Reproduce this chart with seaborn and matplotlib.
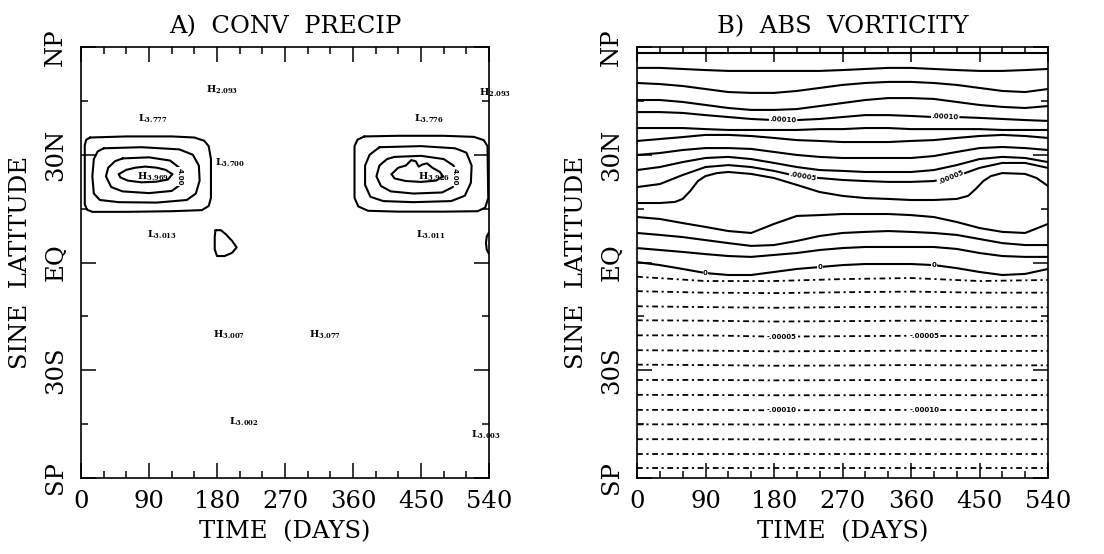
import numpy as np
import pandas as pd
import matplotlib
matplotlib.use("Agg")
import matplotlib.pyplot as plt
import seaborn as sns

# ---------------- axis data ----------------
DAY_MAJOR = [0, 90, 180, 270, 360, 450, 540]
DAY_MINOR = [30, 60, 120, 150, 210, 240, 300, 330, 390, 420, 480, 510]
LAT_MAJOR = [-1.0, -0.5, 0.0, 0.5, 1.0]
LAT_LABELS = ["SP", "30S", "EQ", "30N", "NP"]
LAT_MINOR = [-0.75, -0.25, 0.25, 0.75]

# ---------------- Panel A: convective precipitation (closed contours) ----------------
A_W1_DAY = [12, 60, 120, 150, 163, 169, 172, 172, 169, 160, 120, 60, 15, 8, 5, 5, 7, 12]
A_W1_MU = [0.580, 0.585, 0.585, 0.580, 0.565, 0.540, 0.480, 0.300, 0.262, 0.243, 0.238, 0.235, 0.235, 0.245, 0.270, 0.545, 0.570, 0.580]
A_W2_DAY = [30, 80, 130, 148, 156, 157, 152, 140, 100, 50, 25, 17, 15, 17, 22, 30]
A_W2_MU = [0.530, 0.535, 0.525, 0.500, 0.450, 0.380, 0.320, 0.290, 0.278, 0.280, 0.290, 0.320, 0.400, 0.480, 0.515, 0.530]
A_W3_DAY = [55, 90, 118, 130, 134, 131, 120, 90, 55, 40, 33, 36, 45, 55]
A_W3_MU = [0.483, 0.488, 0.473, 0.440, 0.400, 0.360, 0.332, 0.322, 0.330, 0.350, 0.400, 0.440, 0.470, 0.483]
A_W4_DAY = [50, 60, 72, 85, 100, 112, 121, 115, 100, 80, 62, 52, 50]
A_W4_MU = [0.410, 0.430, 0.440, 0.445, 0.440, 0.430, 0.410, 0.385, 0.375, 0.372, 0.380, 0.395, 0.410]
A_E1_DAY = [375, 420, 480, 520, 533, 538, 539, 535, 525, 480, 420, 380, 367, 362, 362, 366, 375]
A_E1_MU = [0.585, 0.588, 0.588, 0.583, 0.568, 0.540, 0.300, 0.255, 0.238, 0.236, 0.236, 0.240, 0.260, 0.300, 0.540, 0.570, 0.585]
A_E2_DAY = [395, 450, 495, 510, 517, 516, 508, 490, 440, 400, 383, 376, 376, 382, 395]
A_E2_MU = [0.535, 0.540, 0.530, 0.510, 0.450, 0.370, 0.310, 0.285, 0.280, 0.285, 0.305, 0.360, 0.450, 0.500, 0.535]
A_E3_DAY = [415, 450, 480, 493, 497, 492, 478, 440, 410, 397, 391, 395, 405, 415]
A_E3_MU = [0.490, 0.495, 0.480, 0.450, 0.400, 0.350, 0.325, 0.320, 0.330, 0.355, 0.400, 0.450, 0.480, 0.490]
A_E4_DAY = [411, 420, 430, 437, 443, 447, 452, 458, 465, 475, 479, 470, 450, 430, 415, 411]
A_E4_MU = [0.410, 0.440, 0.450, 0.475, 0.470, 0.445, 0.455, 0.460, 0.440, 0.420, 0.400, 0.380, 0.374, 0.378, 0.390, 0.410]
A_T_DAY = [178, 185, 192, 200, 206, 200, 190, 180, 177, 177, 178]
A_T_MU = [0.150, 0.150, 0.130, 0.100, 0.070, 0.045, 0.030, 0.030, 0.060, 0.120, 0.150]
A_R_DAY = [540, 537, 536, 537, 540]
A_R_MU = [0.140, 0.120, 0.090, 0.060, 0.040]

A_MARK = ["H", "L", "L", "H", "L", "H", "L", "H", "L", "H", "L", "L", "H"]
A_MARK_VAL = ["2.093", "3.777", "3.700", "3.969", "3.013", "3.007", "3.002",
              "2.093", "3.776", "3.926", "3.011", "3.003", "3.077"]
A_MARK_DAY = [166, 75, 178, 74, 87, 175, 196, 527, 441, 446, 444, 516, 302]
A_MARK_MU = [0.800, 0.668, 0.462, 0.398, 0.128, -0.336, -0.740, 0.787, 0.668, 0.398, 0.128, -0.800, -0.336]
A_CLAB_DAY = [130, 495]
A_CLAB_MU = [0.400, 0.400]
A_CLAB_TXT = ["4.00", "4.00"]

# ---------------- Panel B: absolute vorticity contour lines ----------------
DAYS30 = [0, 30, 60, 90, 120, 150, 180, 210, 240, 270, 300, 330, 360, 390, 420, 450, 480, 510, 540]
B_P14 = [0.972] * 19
B_P13 = [0.903, 0.903, 0.898, 0.893, 0.889, 0.889, 0.889, 0.889, 0.889, 0.893, 0.898, 0.903, 0.903, 0.898, 0.893, 0.889, 0.889, 0.893, 0.898]
B_P12 = [0.833, 0.828, 0.819, 0.805, 0.791, 0.787, 0.787, 0.796, 0.810, 0.824, 0.833, 0.838, 0.838, 0.833, 0.824, 0.810, 0.796, 0.791, 0.805]
B_P11 = [0.754, 0.754, 0.745, 0.731, 0.717, 0.708, 0.708, 0.712, 0.726, 0.740, 0.754, 0.763, 0.763, 0.759, 0.745, 0.731, 0.722, 0.717, 0.726]
B_P10 = [0.698, 0.698, 0.694, 0.684, 0.675, 0.666, 0.661, 0.661, 0.666, 0.675, 0.684, 0.684, 0.680, 0.675, 0.675, 0.671, 0.666, 0.661, 0.657]
B_P09 = [0.624, 0.624, 0.624, 0.619, 0.615, 0.615, 0.615, 0.615, 0.619, 0.619, 0.624, 0.624, 0.619, 0.619, 0.619, 0.619, 0.615, 0.615, 0.615]
B_P08 = [0.564, 0.573, 0.582, 0.592, 0.592, 0.587, 0.578, 0.568, 0.564, 0.559, 0.559, 0.559, 0.564, 0.568, 0.578, 0.587, 0.592, 0.587, 0.578]
B_P07 = [0.499, 0.508, 0.522, 0.531, 0.531, 0.527, 0.513, 0.499, 0.490, 0.485, 0.485, 0.485, 0.485, 0.494, 0.513, 0.531, 0.536, 0.531, 0.522]
B_P06 = [0.429, 0.443, 0.466, 0.485, 0.490, 0.480, 0.462, 0.443, 0.429, 0.425, 0.420, 0.420, 0.420, 0.429, 0.452, 0.480, 0.490, 0.485, 0.466]
B_P05 = [0.350, 0.364, 0.406, 0.443, 0.452, 0.443, 0.425, 0.401, 0.392, 0.383, 0.378, 0.374, 0.374, 0.378, 0.401, 0.439, 0.462, 0.462, 0.439]
B_P04_DAY = [0, 30, 50, 60, 70, 80, 90, 105, 120, 150, 180, 210, 240, 270, 300, 330, 360, 390, 420, 435, 445, 455, 465, 480, 510, 525, 540]
B_P04 = [0.276, 0.276, 0.281, 0.295, 0.332, 0.378, 0.401, 0.415, 0.420, 0.411, 0.392, 0.360, 0.327, 0.309, 0.299, 0.295, 0.290, 0.290, 0.295, 0.309, 0.341, 0.378, 0.401, 0.415, 0.411, 0.392, 0.355]
B_P03 = [0.211, 0.202, 0.183, 0.165, 0.146, 0.137, 0.179, 0.216, 0.220, 0.225, 0.225, 0.225, 0.220, 0.211, 0.188, 0.160, 0.142, 0.137, 0.179]
B_P02 = [0.137, 0.128, 0.118, 0.104, 0.090, 0.077, 0.081, 0.100, 0.123, 0.137, 0.142, 0.146, 0.142, 0.137, 0.128, 0.109, 0.090, 0.081, 0.081]
B_P01 = [0.067, 0.058, 0.049, 0.039, 0.030, 0.026, 0.035, 0.044, 0.058, 0.067, 0.072, 0.072, 0.072, 0.072, 0.063, 0.044, 0.030, 0.026, 0.026]
B_Z00 = [0.002, -0.012, -0.030, -0.049, -0.058, -0.058, -0.044, -0.030, -0.021, -0.012, -0.007, -0.007, -0.007, -0.012, -0.026, -0.044, -0.058, -0.053, -0.030]

DAYS90 = [0, 90, 180, 270, 360, 450, 540]
B_N01 = [-0.066, -0.086, -0.086, -0.077, -0.072, -0.086, -0.081]
B_N02 = [-0.133, -0.140, -0.142, -0.138, -0.135, -0.140, -0.140]
B_N03 = [-0.203, -0.207, -0.210, -0.207, -0.205, -0.208, -0.208]
B_N04 = [-0.268, -0.270, -0.274, -0.272, -0.270, -0.272, -0.272]
B_N05 = [-0.338, -0.338, -0.344, -0.342, -0.340, -0.342, -0.340]
B_N06 = [-0.407, -0.409, -0.412, -0.411, -0.409, -0.411, -0.410]
B_N07 = [-0.474, -0.476, -0.479, -0.478, -0.476, -0.478, -0.477]
B_N08 = [-0.545, -0.545, -0.547, -0.546, -0.545, -0.546, -0.546]
B_N09 = [-0.614, -0.615, -0.616, -0.616, -0.615, -0.616, -0.615]
B_N10 = [-0.684, -0.684, -0.686, -0.685, -0.684, -0.685, -0.684]
B_N11 = [-0.751, -0.751, -0.752, -0.752, -0.751, -0.752, -0.751]
B_N12 = [-0.820, -0.820, -0.821, -0.821, -0.820, -0.821, -0.820]
B_N13 = [-0.890, -0.890, -0.890, -0.890, -0.890, -0.890, -0.890]
B_N14 = [-0.955, -0.955, -0.955, -0.955, -0.955, -0.955, -0.955]

B_LAB_TXT = [".00010", ".00010", ".00005", ".00005", "0", "0", "0",
             "-.00005", "-.00005", "-.00010", "-.00010"]
B_LAB_DAY = [192, 405, 218, 412, 90, 240, 390, 190, 378, 190, 378]
B_LAB_ROT = [-3, -3, -10, 22, 0, 0, 0, 0, 0, 0, 0]

# ---------------- style ----------------
sns.set_theme(style="ticks")
plt.rcParams["font.family"] = ["DejaVu Serif"]
plt.rcParams["mathtext.fontset"] = "dejavuserif"
FS = 17.5

fig = plt.figure(figsize=(11.04, 5.54), dpi=100)
axA = fig.add_axes([81 / 1104, 76 / 554, 408 / 1104, 431 / 554])
axB = fig.add_axes([637 / 1104, 76 / 554, 411 / 1104, 431 / 554])


def style_axes(ax, title):
    ax.set_xlim(0, 540)
    ax.set_ylim(-1, 1)
    ax.set_xticks(DAY_MAJOR)
    ax.set_xticks(DAY_MINOR, minor=True)
    ax.set_xticklabels([str(d) for d in DAY_MAJOR], fontsize=FS)
    ax.set_yticks(LAT_MAJOR)
    ax.set_yticks(LAT_MINOR, minor=True)
    ax.set_yticklabels(LAT_LABELS, rotation=90, va="center", fontsize=FS)
    ax.tick_params(which="both", direction="in", top=True, right=True,
                   width=1.1, color="black", labelcolor="black")
    ax.tick_params(which="major", length=10.5)
    ax.tick_params(axis="x", which="major", pad=9)
    ax.tick_params(axis="y", which="major", pad=10)
    ax.tick_params(which="minor", length=5)
    for s in ax.spines.values():
        s.set_linewidth(1.2)
        s.set_color("black")
    ax.set_xlabel("TIME  (DAYS)", fontsize=FS, labelpad=5, color="black")
    ax.set_ylabel("SINE  LATITUDE", fontsize=FS, labelpad=9, color="black")
    ax.set_title(title, fontsize=FS, pad=10, color="black")
    ax.set_facecolor("white")


def frame(lines):
    rows = []
    for name, days, mus in lines:
        for d, m in zip(days, mus):
            rows.append((name, d, m))
    return pd.DataFrame(rows, columns=["line", "day", "mu"])


# ---------------- Panel A ----------------
ringsA = [
    ("w1", A_W1_DAY, A_W1_MU), ("w2", A_W2_DAY, A_W2_MU), ("w3", A_W3_DAY, A_W3_MU),
    ("w4", A_W4_DAY, A_W4_MU), ("e1", A_E1_DAY, A_E1_MU), ("e2", A_E2_DAY, A_E2_MU),
    ("e3", A_E3_DAY, A_E3_MU), ("e4", A_E4_DAY, A_E4_MU), ("t", A_T_DAY, A_T_MU),
    ("r", A_R_DAY, A_R_MU),
]
sns.lineplot(data=frame(ringsA), x="day", y="mu", units="line", estimator=None,
             sort=False, color="black", linewidth=1.5, ax=axA, legend=False)
for m, v, d, u in zip(A_MARK, A_MARK_VAL, A_MARK_DAY, A_MARK_MU):
    axA.text(d, u, r"$\mathbf{%s}_{\mathbf{%s}}$" % (m, v), fontsize=7,
             ha="left", va="center", color="black", clip_on=False, zorder=6)
for d, u, s in zip(A_CLAB_DAY, A_CLAB_MU, A_CLAB_TXT):
    axA.text(d, u, s, fontsize=5, fontweight="bold", family="DejaVu Sans",
             rotation=-90, ha="center", va="center", color="black", zorder=6,
             bbox=dict(fc="white", ec="none", pad=0.5))
style_axes(axA, "A)  CONV  PRECIP")

# ---------------- Panel B ----------------
pos_lines = [("p14", DAYS30, B_P14), ("p13", DAYS30, B_P13), ("p12", DAYS30, B_P12),
             ("p11", DAYS30, B_P11), ("p10", DAYS30, B_P10), ("p09", DAYS30, B_P09),
             ("p08", DAYS30, B_P08), ("p07", DAYS30, B_P07), ("p06", DAYS30, B_P06),
             ("p05", DAYS30, B_P05), ("p04", B_P04_DAY, B_P04), ("p03", DAYS30, B_P03),
             ("p02", DAYS30, B_P02), ("p01", DAYS30, B_P01), ("z00", DAYS30, B_Z00)]
neg_lines = [("n01", DAYS90, B_N01), ("n02", DAYS90, B_N02), ("n03", DAYS90, B_N03),
             ("n04", DAYS90, B_N04), ("n05", DAYS90, B_N05), ("n06", DAYS90, B_N06),
             ("n07", DAYS90, B_N07), ("n08", DAYS90, B_N08), ("n09", DAYS90, B_N09),
             ("n10", DAYS90, B_N10), ("n11", DAYS90, B_N11), ("n12", DAYS90, B_N12),
             ("n13", DAYS90, B_N13), ("n14", DAYS90, B_N14)]
sns.lineplot(data=frame(pos_lines), x="day", y="mu", units="line", estimator=None,
             sort=False, color="black", linewidth=1.5, ax=axB, legend=False)
n_before = len(axB.lines)
sns.lineplot(data=frame(neg_lines), x="day", y="mu", units="line", estimator=None,
             sort=False, color="black", linewidth=1.3, ax=axB, legend=False)
for ln in axB.lines[n_before:]:
    ln.set_dashes([3.2, 2.0, 1.2, 2.0])

lab_src = [B_P10, B_P10, B_P05, B_P05, B_Z00, B_Z00, B_Z00, B_N05, B_N05, B_N10, B_N10]
lab_days = [DAYS30] * 7 + [DAYS90] * 4
for s, d, r, src, xs in zip(B_LAB_TXT, B_LAB_DAY, B_LAB_ROT, lab_src, lab_days):
    u = float(np.interp(d, xs, src))
    axB.text(d, u, s, fontsize=5, fontweight="bold", family="DejaVu Sans",
             rotation=r, ha="center", va="center", color="black", zorder=6,
             bbox=dict(fc="white", ec="none", pad=0.4))
style_axes(axB, "B)  ABS  VORTICITY")

fig.savefig("out.png", dpi=100, facecolor="white")
